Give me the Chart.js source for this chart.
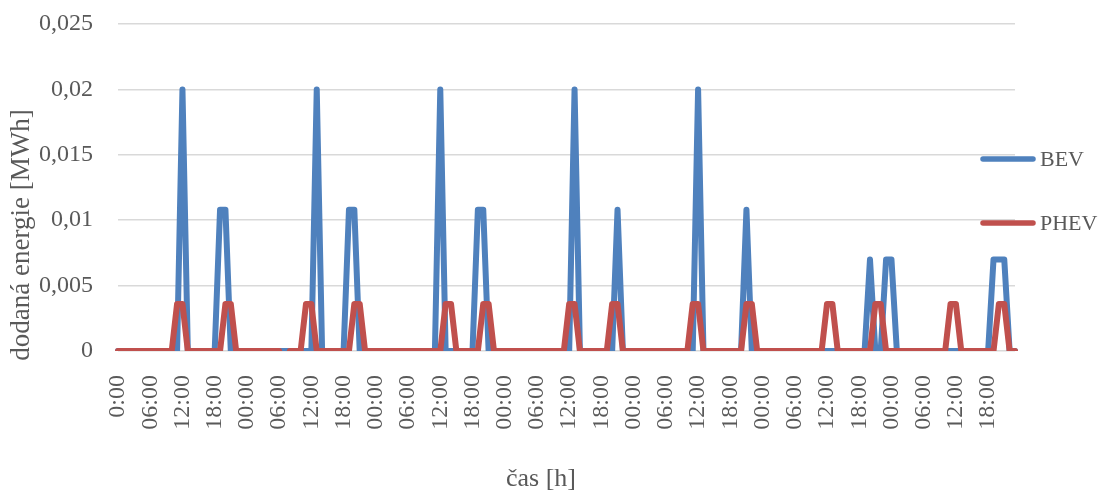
<!DOCTYPE html>
<html>
<head>
<meta charset="utf-8">
<script src="https://cdn.jsdelivr.net/npm/chart.js@4/dist/chart.umd.min.js"></script>
<style>
  html, body { margin: 0; padding: 0; background: #fff; }
  #wrap { width: 1098px; height: 492px; }
</style>
</head>
<body>
<div id="wrap"><canvas id="chart1" width="1098" height="492"></canvas></div>
<script>
// hodnoty po dnech, 24 hodin v kazdem radku
const bevValues = [
  0,0,0,0,0,0,0,0,0,0,0,0,0.02,0,0,0,0,0,0,0.0108,0.0108,0,0,0,
  0,0,0,0,0,0,0,0,0,0,0,0,0,0.02,0,0,0,0,0,0.0108,0.0108,0,0,0,
  0,0,0,0,0,0,0,0,0,0,0,0,0.02,0,0,0,0,0,0,0.0108,0.0108,0,0,0,
  0,0,0,0,0,0,0,0,0,0,0,0,0,0.02,0,0,0,0,0,0,0,0.0108,0,0,
  0,0,0,0,0,0,0,0,0,0,0,0,0.02,0,0,0,0,0,0,0,0,0.0108,0,0,
  0,0,0,0,0,0,0,0,0,0,0,0,0,0,0,0,0,0,0,0,0.007,0,0,0.007,
  0.007,0,0,0,0,0,0,0,0,0,0,0,0,0,0,0,0,0,0,0.007,0.007,0.007,0,0
];

const phevValues = [
  0,0,0,0,0,0,0,0,0,0,0,0.0036,0.0036,0,0,0,0,0,0,0,0.0036,0.0036,0,0,
  0,0,0,0,0,0,0,null,0,0,0,0.0036,0.0036,0,0,0,0,0,0,0,0.0036,0.0036,0,0,
  0,0,0,0,0,0,0,0,0,0,0,0,0,0.0036,0.0036,0,0,0,0,0,0.0036,0.0036,0,0,
  0,0,0,0,0,0,0,0,0,0,0,0,0.0036,0.0036,0,0,0,0,0,0,0.0036,0.0036,0,0,
  0,0,0,0,0,0,0,0,0,0,0,0.0036,0.0036,0,0,0,0,0,0,0,0,0.0036,0.0036,0,
  0,0,0,0,0,0,0,0,0,0,0,0,0.0036,0.0036,0,0,0,0,0,0,0,0.0036,0.0036,0,
  0,0,0,0,0,0,0,0,0,0,0,0.0036,0.0036,0,0,0,0,0,0,0,0.0036,0.0036,0,0
];

const tickLabels = [
  '0:00','06:00','12:00','18:00',
  '00:00','06:00','12:00','18:00',
  '00:00','06:00','12:00','18:00',
  '00:00','06:00','12:00','18:00',
  '00:00','06:00','12:00','18:00',
  '00:00','06:00','12:00','18:00',
  '00:00','06:00','12:00','18:00'
];

const seriesNames = ['BEV', 'PHEV'];
const seriesColors = ['#4F81BD', '#C0504D'];
const xTitle = 'čas [h]';
const yTitle = 'dodaná energie [MWh]';

// kategorie = jednotlive hodiny tydne
const categories = [];
for (let i = 0; i < bevValues.length; i++) {
  categories.push(String(i % 24).padStart(2, '0') + ':00');
}

const fontName = '"Liberation Serif", "Times New Roman", serif';
const textColor = '#595959';

// legenda vpravo, zasahuje do plochy grafu jako v Excelu
const sideLegend = {
  id: 'sideLegend',
  afterDraw(chart) {
    const ctx = chart.ctx;
    const rows = [159, 223];
    ctx.save();
    chart.data.datasets.forEach(function(ds, i) {
      ctx.strokeStyle = ds.borderColor;
      ctx.lineWidth = 5.5;
      ctx.lineCap = 'round';
      ctx.beginPath();
      ctx.moveTo(983, rows[i]);
      ctx.lineTo(1033, rows[i]);
      ctx.stroke();
      ctx.fillStyle = textColor;
      ctx.font = '22px ' + fontName;
      ctx.textAlign = 'left';
      ctx.textBaseline = 'middle';
      ctx.fillText(ds.label, 1040, rows[i] + 1);
    });
    ctx.restore();
  }
};

const axisTitles = {
  id: 'axisTitles',
  afterDraw(chart) {
    const ctx = chart.ctx;
    ctx.save();
    ctx.fillStyle = textColor;
    ctx.font = '26px ' + fontName;
    ctx.textAlign = 'center';
    ctx.textBaseline = 'middle';
    ctx.fillText(xTitle, 541, 479);
    ctx.font = '27px ' + fontName;
    ctx.translate(22, 235);
    ctx.rotate(-Math.PI / 2);
    ctx.fillText(yTitle, 0, 0);
    ctx.restore();
  }
};

const chart1Ctx = document.querySelector('canvas#chart1').getContext('2d');

const chart1 = new Chart(chart1Ctx, {
  type: 'line',
  data: {
    labels: categories,
    datasets: [
      {
        label: seriesNames[0],
        data: bevValues,
        borderColor: seriesColors[0],
        backgroundColor: seriesColors[0],
        borderWidth: 6,
        pointRadius: 0,
        borderJoinStyle: 'round',
        borderCapStyle: 'round',
        order: 2
      },
      {
        label: seriesNames[1],
        data: phevValues,
        borderColor: seriesColors[1],
        backgroundColor: seriesColors[1],
        borderWidth: 6,
        pointRadius: 0,
        borderJoinStyle: 'round',
        borderCapStyle: 'round',
        spanGaps: false,
        order: 1
      }
    ]
  },
  options: {
    responsive: false,
    animation: false,
    layout: { padding: { top: 24, right: 83, left: 0, bottom: 0 } },
    plugins: {
      legend: { display: false },
      tooltip: { enabled: false }
    },
    scales: {
      x: {
        offset: false,
        grid: { display: false },
        border: { display: false },
        ticks: {
          autoSkip: false,
          maxRotation: 90,
          minRotation: 90,
          padding: 16,
          color: textColor,
          font: { family: fontName, size: 24 },
          callback: function(val, index) {
            return index % 6 === 0 ? tickLabels[index / 6] : '';
          }
        },
        afterFit: function(scale) { scale.height = 141; }
      },
      y: {
        min: 0,
        max: 0.025,
        grid: { color: '#d9d9d9', lineWidth: 1.5, drawTicks: false },
        border: { display: false },
        ticks: {
          stepSize: 0.005,
          padding: 25,
          color: textColor,
          font: { family: fontName, size: 24 },
          callback: function(value) {
            return String(Math.round(value * 1000) / 1000).replace('.', ',');
          }
        },
        afterFit: function(scale) {
          scale.width = 118;
          scale.paddingTop = 14;
          scale.paddingBottom = 14;
        }
      }
    }
  },
  plugins: [sideLegend, axisTitles]
});
</script>
</body>
</html>
